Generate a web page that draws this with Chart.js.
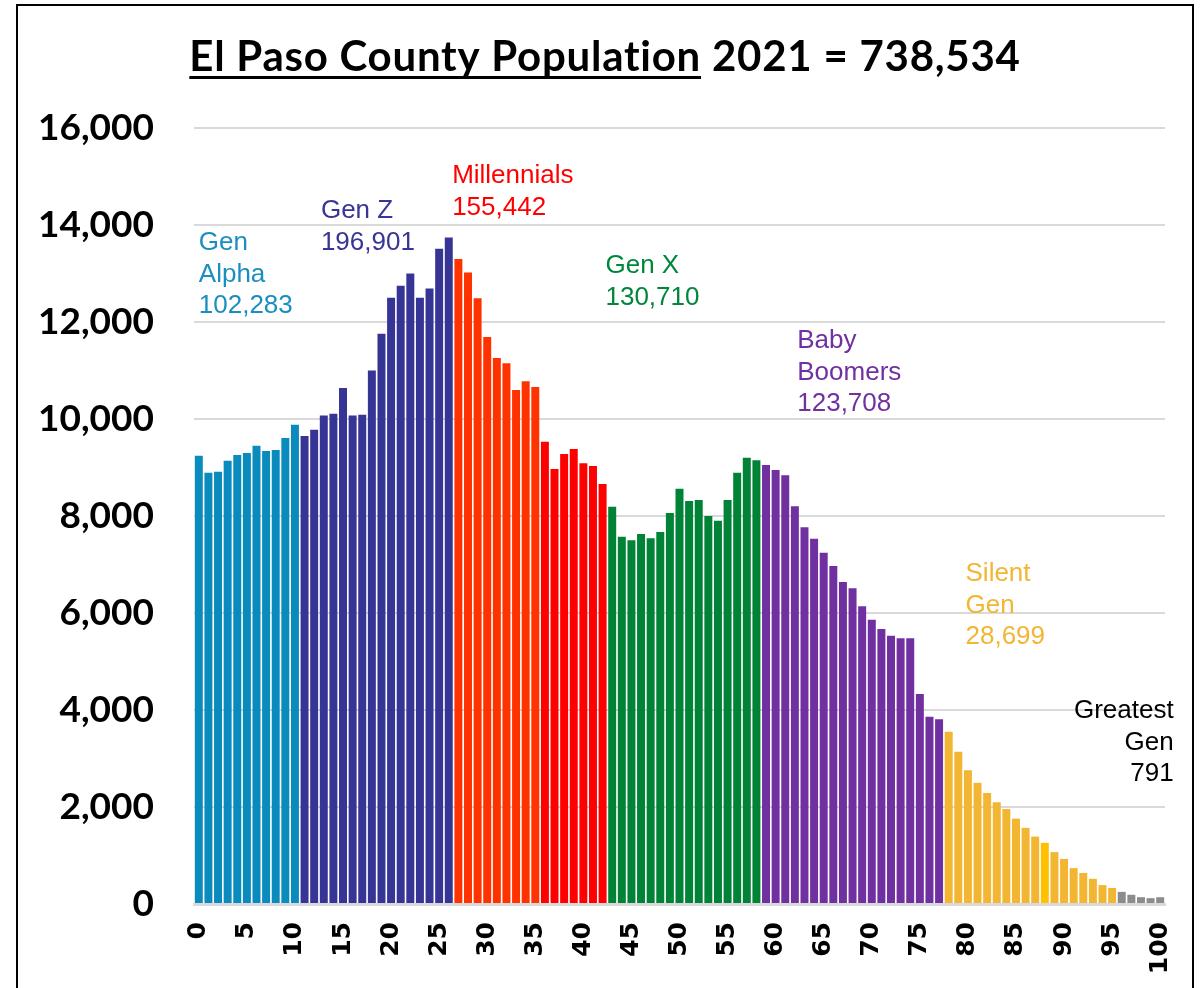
<!DOCTYPE html>
<html>
<head>
<meta charset="utf-8">
<script src="https://cdn.jsdelivr.net/npm/chart.js@4/dist/chart.umd.min.js"></script>
<style>
  html, body { margin: 0; padding: 0; background: #fff; overflow: hidden; }
  #wrap { position: relative; width: 1203px; height: 988px; }
  #frame {
    position: absolute; left: 16px; top: 4px; width: 1178px; height: 1000px;
    border: 2px solid #000; box-sizing: border-box; pointer-events: none;
  }
  canvas { position: absolute; left: 0; top: 0; }
</style>
</head>
<body>
<div id="wrap">
  <canvas id="myChart" width="1203" height="988"></canvas>
  <div id="frame"></div>
</div>
<script>
// 年齡 0-100
const ages = [];
for (let i = 0; i <= 100; i++) ages.push(String(i));

// 各年齡人口
const population = [
  9240, 8890, 8910, 9140, 9260, 9300, 9450, 9340, 9360, 9610,
  9880, 9650, 9780, 10070, 10110, 10640, 10070, 10090, 11000, 11760,
  12500, 12750, 13000, 12500, 12690, 13510, 13740, 13300, 13020, 12490,
  11690, 11260, 11150, 10600, 10780, 10660, 9530, 8970, 9280, 9380,
  9090, 9030, 8660, 8190, 7570, 7500, 7630, 7540, 7670, 8060,
  8560, 8310, 8330, 8000, 7900, 8330, 8890, 9200, 9150, 9050,
  8950, 8840, 8200, 7770, 7530, 7240, 6970, 6640, 6510, 6140,
  5860, 5670, 5530, 5480, 5480, 4330, 3860, 3810, 3550, 3140,
  2760, 2500, 2290, 2100, 1960, 1760, 1570, 1390, 1260, 1070,
  930, 740, 640, 520, 390, 330, 250, 190, 140, 120,
  140
];

// 世代起始年齡與顏色
const genStartAges = [0, 11, 27, 36, 43, 59, 78, 96];
const genColors = ['#0A8BBE', '#363596', '#FF3300', '#FF0000', '#008237', '#7030A0', '#F2B632', '#8C8C8C'];
const highlightAge = 88;
const highlightColor = '#FFC000';

// y 軸刻度
const yTicks = [0, 2000, 4000, 6000, 8000, 10000, 12000, 14000, 16000];

// 世代標籤
const genLabels = [
  ['Gen', 'Alpha', '102,283'],
  ['Gen Z', '196,901'],
  ['Millennials', '155,442'],
  ['Gen X', '130,710'],
  ['Baby', 'Boomers', '123,708'],
  ['Silent', 'Gen', '28,699'],
  ['Greatest', 'Gen', '791']
];
const labelAges = [0, 12.7, 26.35, 42.3, 62.25, 79.75, 101.4];
const labelValues = [13630, 14290, 15010, 13150, 11610, 6800, 3980];
const labelColors = ['#1A8FBF', '#383596', '#FF0000', '#00873C', '#7030A0', '#F2B632', '#000000'];
const labelAlign = ['left', 'left', 'left', 'left', 'left', 'left', 'right'];

const titleMain = 'El Paso County Population';
const titleRest = ' 2021 = 738,534';

// 每根柱子的顏色
const barColors = population.map((v, i) => {
  if (i === highlightAge) return highlightColor;
  let c = genColors[0];
  genStartAges.forEach((start, g) => {
    if (i >= start) c = genColors[g];
  });
  return c;
});

const overlayPlugin = {
  id: 'overlay',
  afterDraw(chart) {
    const ctx = chart.ctx;
    const xs = chart.scales.x;
    const ys = chart.scales.y;
    ctx.save();
    // 世代標籤
    ctx.font = '26px "Liberation Sans", Arial, sans-serif';
    ctx.textBaseline = 'middle';
    genLabels.forEach((lines, i) => {
      const x = xs.getPixelForValue(labelAges[i]);
      const y0 = ys.getPixelForValue(labelValues[i]);
      ctx.fillStyle = labelColors[i];
      ctx.textAlign = labelAlign[i];
      lines.forEach((line, k) => {
        ctx.fillText(line, x, y0 + k * 31.5);
      });
    });
    // 標題 (前半段加底線)
    ctx.font = 'bold 42px Lato, "Open Sans", sans-serif';
    ctx.letterSpacing = '0.75px';
    ctx.textAlign = 'left';
    ctx.textBaseline = 'alphabetic';
    ctx.fillStyle = '#000';
    const w1 = ctx.measureText(titleMain).width;
    const w2 = ctx.measureText(titleRest).width;
    const startX = 605 - (w1 + w2) / 2;
    ctx.fillText(titleMain, startX, 71);
    ctx.fillText(titleRest, startX + w1, 71);
    ctx.fillRect(startX, 76, w1, 3);
    ctx.restore();
  }
};

const ctx = document.getElementById('myChart');
const myChart = new Chart(ctx, {
  type: 'bar',
  data: {
    labels: ages,
    datasets: [{
      data: population,
      backgroundColor: barColors,
      borderWidth: 0,
      barPercentage: 0.83,
      categoryPercentage: 1.0
    }]
  },
  options: {
    responsive: false,
    animation: false,
    devicePixelRatio: 1,
    layout: {
      padding: { top: 128, right: 38, left: 0, bottom: 0 }
    },
    plugins: {
      legend: { display: false },
      tooltip: { enabled: false }
    },
    scales: {
      x: {
        grid: { display: false, drawTicks: false },
        border: { display: true, color: '#D9D9D9', width: 3 },
        ticks: {
          autoSkip: false,
          maxRotation: 90,
          minRotation: 90,
          padding: 18,
          color: '#000',
          font: { family: '"DejaVu Sans", sans-serif', weight: 'bold', size: 25 },
          callback: function(value, index) {
            return index % 5 === 0 ? this.getLabelForValue(value) : '';
          }
        },
        afterFit(scale) {
          scale.height = 84;
          scale.paddingLeft = 0;
          scale.paddingRight = 0;
        }
      },
      y: {
        min: 0,
        max: 16000,
        afterBuildTicks(scale) {
          scale.ticks = yTicks.map(v => ({ value: v }));
        },
        grid: { color: '#D9D9D9', lineWidth: 2, drawTicks: false },
        border: { display: false },
        ticks: {
          padding: 40,
          color: '#000',
          font: { family: 'Lato, "Open Sans", sans-serif', weight: 'bold', size: 37 },
          callback: value => value.toLocaleString('en-US')
        },
        afterFit(scale) {
          scale.width = 194;
          scale.paddingTop = 0;
          scale.paddingBottom = 0;
        }
      }
    }
  },
  plugins: [overlayPlugin]
});
</script>
</body>
</html>
